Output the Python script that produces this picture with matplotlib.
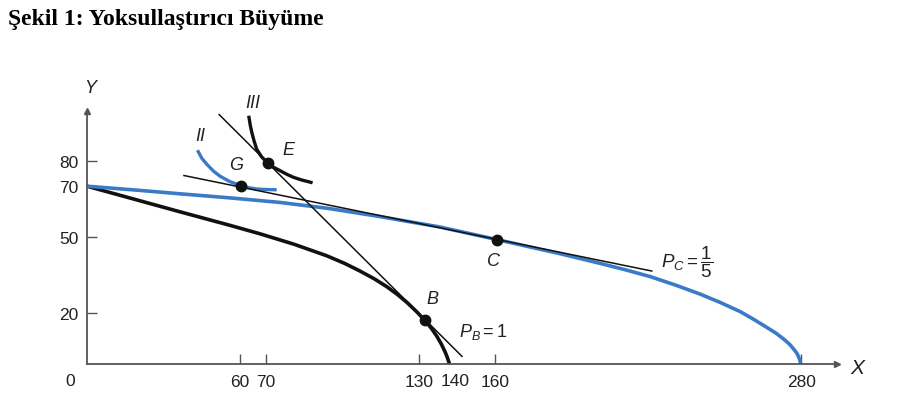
import matplotlib
matplotlib.use('Agg')
import matplotlib.pyplot as plt

plt.rcParams['font.family'] = ['Liberation Sans', 'DejaVu Sans']
plt.rcParams['mathtext.fontset'] = 'custom'
plt.rcParams['mathtext.rm'] = 'Liberation Sans'
plt.rcParams['mathtext.it'] = 'Liberation Sans:italic'

BLUE = '#3a7bc8'
INK = '#111111'

# production possibility frontier before growth (black)
ppf_old_x = [0, 17, 36.5, 56, 68, 81, 94, 101, 107, 112.5, 117.5, 121.7, 125.4, 129.2, 132.8, 135.1, 137.1, 138.9, 140.4, 141.2, 141.7, 142.1]
ppf_old_y = [70, 65.3, 59.9, 54.6, 51.2, 47.2, 42.6, 39.6, 36.6, 33.6, 30.45, 27.35, 24.25, 20.6, 16.8, 13.9, 11.0, 7.85, 4.7, 2.7, 1.2, 0]

# production possibility frontier after growth (blue)
ppf_new_x = [0, 20, 36.5, 56, 75.7, 95, 115, 138, 160.6, 185.5, 201.2, 211, 220.8, 230.6, 240.4, 248.3, 256.1, 261.3, 266.5, 270, 273.1, 275.3, 277, 278.3, 279.3, 279.8]
ppf_new_y = [70, 68.4, 67.0, 65.4, 63.6, 61.2, 58.0, 54.0, 49.0, 43.4, 39.6, 37.1, 34.4, 31.1, 27.5, 24.2, 20.6, 17.6, 14.4, 12.2, 9.8, 7.9, 5.9, 4.2, 2.0, 0]

# indifference curves
ic2_x = [43.6, 45, 46.9, 49.5, 52.2, 56, 60.4, 63.5, 66.5, 70, 73.7]
ic2_y = [83.6, 81.0, 78.7, 76.0, 73.9, 71.8, 70.2, 69.4, 68.9, 68.7, 68.6]
ic3_x = [63.5, 64.0, 64.6, 65.5, 66.5, 68.4, 70.9, 73.0, 75.7, 78.3, 80.9, 84.3, 87.8]
ic3_y = [97.1, 94.0, 91.2, 87.8, 84.6, 81.6, 79.1, 77.5, 76.1, 74.7, 73.5, 72.4, 71.5]

# price lines (P_B = 1 and P_C = 1/5)
pb_x = [51.8, 147]
pb_y = [98.2, 3.0]
pc_x = [38.0, 221.4]
pc_y = [74.2, 36.6]

# points
pts = {'G': (60.4, 70.0), 'E': (70.9, 79.1), 'B': (132.6, 17.2), 'C': (160.6, 49.0)}

xticks = [60, 70, 130, 160, 280]
yticks = [20, 50, 70, 80]

fig = plt.figure(figsize=(9, 4.02), dpi=100)
ax = fig.add_axes([87 / 900, 37 / 402, 750 / 900, 253 / 402])
ax.set_xlim(0, 294)
ax.set_ylim(0, 99.6)

ax.plot(ppf_old_x, ppf_old_y, color=INK, lw=2.6, solid_capstyle='butt', solid_joinstyle='round')
ax.plot(ppf_new_x, ppf_new_y, color=BLUE, lw=2.6, solid_capstyle='butt', solid_joinstyle='round')
ax.plot(ic2_x, ic2_y, color=BLUE, lw=2.4, solid_joinstyle='round')
ax.plot(ic3_x, ic3_y, color=INK, lw=2.4, solid_joinstyle='round')
ax.plot(pb_x, pb_y, color=INK, lw=1.1)
ax.plot(pc_x, pc_y, color=INK, lw=1.1)
for name, (px, py) in pts.items():
    ax.plot(px, py, 'o', color=INK, ms=7.5, zorder=5)

# axes
for s in ['top', 'right']:
    ax.spines[s].set_visible(False)
for s in ['left', 'bottom']:
    ax.spines[s].set_color('#555555')
    ax.spines[s].set_linewidth(1.3)
ax.plot(1, 0, '>', color='#555555', ms=5, transform=ax.transAxes, clip_on=False)
ax.plot(0, 1, '^', color='#555555', ms=5, transform=ax.transAxes, clip_on=False)

ax.set_xticks(xticks)
ax.set_xticklabels([str(v) for v in xticks])
ax.set_yticks(yticks)
ax.set_yticklabels([str(v) for v in yticks])
ax.tick_params(direction='in', length=7, width=1, color='#555555', labelsize=12.5, colors='#222222')
ax.tick_params(axis='x', pad=7)
ax.tick_params(axis='y', pad=6)
ax.text(-6.5, -6.5, '0', ha='center', va='center', fontsize=12.5, color='#222222', clip_on=False)
ax.text(144.5, -6.5, '140', ha='center', va='center', fontsize=12.5, color='#222222', clip_on=False)

it = dict(fontsize=13, style='italic', color='#222222', ha='center', va='center')
ax.text(1.2, 109, 'Y', clip_on=False, **it)
ax.text(302, -1.5, 'X', clip_on=False, fontsize=15, style='italic', color='#222222', ha='center', va='center')
ax.text(65, 103, 'III', clip_on=False, **it)
ax.text(44.3, 90, 'II', **it)
ax.text(79, 84.6, 'E', **it)
ax.text(58.5, 78.7, 'G', **it)
ax.text(135.5, 25.6, 'B', **it)
ax.text(159.2, 40.6, 'C', **it)
ax.text(146, 13, r'$P_B = 1$', fontsize=13, color='#222222', ha='left', va='center')
ax.text(225, 40.5, r'$P_C = \dfrac{1}{5}$', fontsize=13.5, color='#222222', ha='left', va='center')

fig.text(8 / 900, 1 - 20 / 402, 'Şekil 1: Yoksullaştırıcı Büyüme', family='Liberation Serif',
         weight='bold', fontsize=17, ha='left', va='center')

fig.savefig('out.png', dpi=100)
